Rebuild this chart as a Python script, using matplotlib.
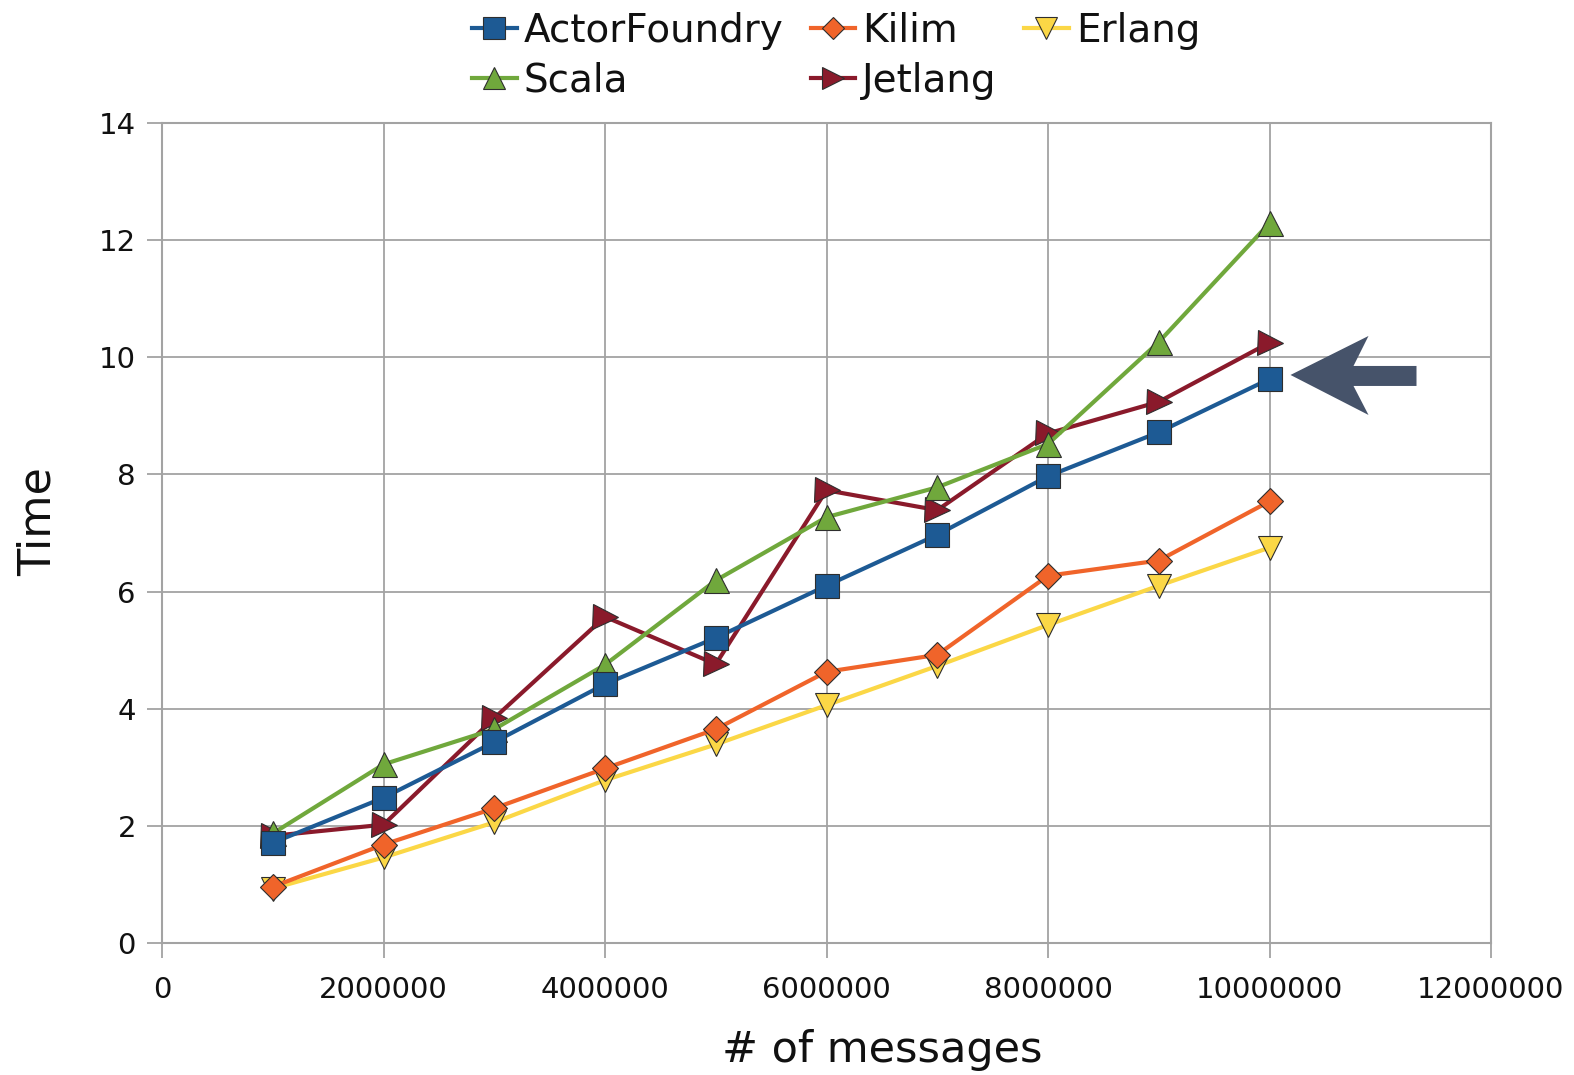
import matplotlib
matplotlib.use("Agg")
import matplotlib.pyplot as plt
import matplotlib.transforms as mtransforms
from matplotlib.patches import Polygon
from matplotlib.ticker import FuncFormatter

# Benchmark data: time vs number of messages
messages = [1000000, 2000000, 3000000, 4000000, 5000000,
            6000000, 7000000, 8000000, 9000000, 10000000]
actorfoundry = [1.71, 2.48, 3.43, 4.42, 5.21, 6.10, 6.97, 7.97, 8.72, 9.63]
kilim = [0.96, 1.68, 2.30, 2.98, 3.65, 4.63, 4.92, 6.27, 6.53, 7.54]
erlang = [0.93, 1.46, 2.06, 2.78, 3.39, 4.06, 4.73, 5.43, 6.10, 6.75]
scala = [1.87, 3.05, 3.65, 4.75, 6.19, 7.27, 7.78, 8.52, 10.26, 12.29]
jetlang = [1.83, 2.02, 3.84, 5.57, 4.76, 7.73, 7.39, 8.70, 9.24, 10.25]

x_ticks = [0, 2000000, 4000000, 6000000, 8000000, 10000000, 12000000]
y_ticks = [0, 2, 4, 6, 8, 10, 12, 14]

plt.rcParams["font.family"] = ["DejaVu Sans"]

fig = plt.figure(figsize=(15.74, 10.75), dpi=100)
ax = fig.add_axes([162 / 1574, 1 - 943 / 1075, (1491 - 162) / 1574, (943 - 123) / 1075])

grid_col = "#a3a3a3"
edge = "#2e2e2e"

series = [
    ("Erlang", erlang, "#fbd746", "v", 17, 2),
    ("Jetlang", jetlang, "#8a1a2b", ">", 18, 3),
    ("Scala", scala, "#70a83c", "^", 18, 4),
    ("Kilim", kilim, "#f0642a", "D", 13, 5),
    ("ActorFoundry", actorfoundry, "#1d5a94", "s", 17.5, 6),
]

handles = {}
for name, vals, col, mk, ms, z in series:
    (ln,) = ax.plot(messages, vals, color=col, lw=3, marker=mk, markersize=ms,
                    markerfacecolor=col, markeredgecolor=edge, markeredgewidth=0.8,
                    zorder=z, label=name, clip_on=False)
    handles[name] = ln

ax.set_xlim(0, 12000000)
ax.set_ylim(0, 14)
ax.set_xticks(x_ticks)
ax.set_yticks(y_ticks)
ax.xaxis.set_major_formatter(FuncFormatter(lambda v, p: f"{int(v)}"))

ax.grid(True, color=grid_col, lw=1.3)
ax.set_axisbelow(True)
for sp in ax.spines.values():
    sp.set_color(grid_col)
    sp.set_linewidth(1.5)
ax.tick_params(axis="both", direction="out", length=10.8, width=1.3,
               color=grid_col, labelsize=21, labelcolor="#111111")
ax.tick_params(axis="x", pad=13)
ax.tick_params(axis="y", pad=8)

ax.set_xlabel("# of messages", fontsize=31, color="#111111")
ax.xaxis.set_label_coords((882 - 162) / 1329, -(1050 - 943) / 820)
ax.xaxis.label.set_va("center")
ax.set_ylabel("Time", fontsize=32, color="#111111")
ax.yaxis.set_label_coords((38 - 162) / 1329, (943 - 522) / 820)
ax.yaxis.label.set_va("center")

order = ["ActorFoundry", "Scala", "Kilim", "Jetlang", "Erlang"]
leg = fig.legend([handles[n] for n in order], order, loc="upper center",
                 bbox_to_anchor=(836 / 1574, 1 - 12 / 1075), ncol=3, frameon=False,
                 fontsize=28, handlelength=1.15, handletextpad=0.18,
                 columnspacing=0.7, labelspacing=0.3, borderpad=0,
                 borderaxespad=0, markerscale=0.9)
for t in leg.get_texts():
    t.set_color("#111111")

# Pointer arrow next to the last ActorFoundry point (offsets in inches)
verts = [(0.21, 0.04), (0.99, 0.43), (0.84, 0.13), (1.47, 0.13),
         (1.47, -0.07), (0.84, -0.07), (0.99, -0.36)]
arrow_tr = fig.dpi_scale_trans + mtransforms.ScaledTranslation(
    messages[-1], actorfoundry[-1], ax.transData)
ax.add_patch(Polygon(verts, closed=True, facecolor="#46536a", edgecolor="none",
                     transform=arrow_tr, clip_on=False, zorder=10))

fig.savefig("out.png", dpi=100, facecolor="white")
